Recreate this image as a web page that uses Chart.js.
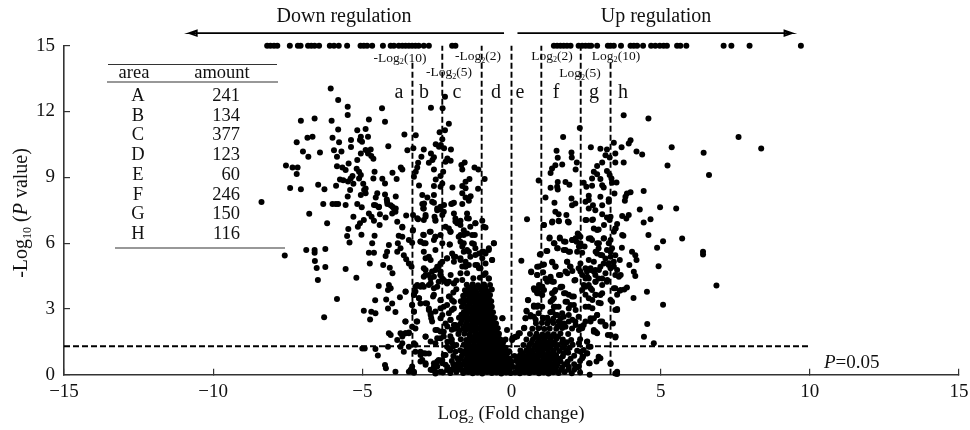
<!DOCTYPE html>
<html>
<head>
<meta charset="utf-8">
<style>
html, body { margin: 0; padding: 0; background: #fff; }
canvas { display: block; }
</style>
<script src="https://cdn.jsdelivr.net/npm/chart.js@4"></script>
</head>
<body>
<canvas id="volcano" width="970" height="430"></canvas>
<script>
// table in the upper left
const areas = ['A', 'B', 'C', 'D', 'E', 'F', 'G', 'H'];
const amounts = [241, 134, 377, 123, 60, 246, 150, 116];

const xTicks = [-15, -10, -5, 0, 5, 10, 15];
const yTicks = [0, 3, 6, 9, 12, 15];

// fold change cut offs, log2(2), log2(5), log2(10)
const cutLow = 1;
const cutMid = 2.32;
const cutHigh = 3.32;
const pLine = 1.3;

// points capped at -log10(P) = 15
const cappedLeft = [-8.19, -8.08, -7.96, -7.85, -7.43, -7.16, -7.07, -6.82, -6.71, -6.6, -6.45, -6.09, -5.95, -5.79, -5.51, -5.06, -4.95, -4.84, -4.67, -4.31, -4.05, -3.94, -3.78, -3.66, -3.55, -3.44, -3.33, -3.22, -3.11, -2.94, -2.77, -1.99, -1.88];
const cappedRight = [1.42, 1.53, 1.64, 1.75, 1.86, 1.98, 2.25, 2.37, 2.48, 2.59, 2.67, 2.87, 3.23, 3.32, 3.43, 3.67, 3.99, 4.1, 4.21, 4.41, 4.68, 4.82, 4.97, 5.1, 5.21, 5.55, 5.66, 5.86, 7.11, 7.37, 7.98, 9.7];

const farLeftHigh = [[-6.06,13.05],[-5.81,12.52],[-5.49,12.22],[-5.49,11.84],[-4.34,12.15],[-7.06,11.58],[-6.6,11.68],[-6.03,11.58],[-4.78,11.64],[-4.24,11.53],[-5.81,11.18],[-5.17,11.14],[-4.89,11.2],[-6.84,10.8],[-6.67,10.85],[-7.2,10.6],[-6,10.8],[-5.78,10.6],[-5.38,10.7],[-5.05,10.85],[-5.08,10.7],[-4.81,10.85],[-5.01,10.62],[-5.38,10.38],[-4.13,10.42],[-6.99,10.18],[-6.81,9.94],[-6.42,10.13],[-5.95,10.23],[-5.7,10.18],[-5.85,9.94],[-5.05,10.09],[-4.89,10.24],[-4.72,10.27],[-4.81,10.09],[-4.7,9.97],[-4.63,9.85],[-5.17,9.79],[-5.46,9.63],[-7.56,9.54],[-7.34,9.45],[-7.17,9.45],[-7.2,9.15],[-5.85,9.5],[-5.67,9.45],[-5.56,9.33],[-5.19,9.39],[-5.11,9.25],[-5.05,9.1],[-4.59,9.25],[-5.33,9.06],[-5.39,8.95],[-5.75,8.9],[-5.64,8.86],[-5.48,8.81],[-5.11,8.95],[-4.63,8.95],[-4.33,8.93],[-4.24,8.72],[-5.3,8.71],[-4.97,8.71],[-4.89,8.49],[-7.42,8.51],[-7.06,8.46],[-6.48,8.66],[-6.27,8.46],[-5.88,8.62],[-5.41,8.42],[-4.94,8.42],[-5.05,8.19],[-4.89,8.27],[-5.49,8.13],[-4.5,8.27],[-4.55,8.08],[-4.24,8.22],[-4.18,7.99],[-8.38,7.87],[-6.31,7.78],[-6,7.78],[-5.89,7.78],[-5.81,7.78],[-5.56,7.74],[-5.17,7.78],[-5.02,7.63],[-4.61,7.74],[-4.44,7.66],[-4.16,7.78]];

const nearLeftHigh = [[-2.23,12.67],[-2.7,12.17],[-2.31,12.15],[-2.1,11.44],[-2.23,11.15],[-2.41,11.05],[-3.59,10.95],[-3.21,10.92],[-2.32,10.73],[-2.54,10.51],[-2.37,10.47],[-2.26,10.32],[-2.43,10.39],[-2.03,10.27],[-3.49,10.23],[-3.29,10.32],[-2.94,10.27],[-2.7,10.09],[-3.02,9.94],[-2.6,9.91],[-2.65,9.79],[-2.77,9.66],[-2.15,9.86],[-2.04,9.75],[-2.21,9.71],[-3.13,9.66],[-3.16,9.45],[-3.21,9.25],[-3.27,9.03],[-3.71,9.45],[-3.66,9.36],[-3.99,9.21],[-3.85,8.92],[-2.6,9.36],[-2.29,9.25],[-2.38,9.06],[-2.54,8.9],[-1.57,9.68],[-1.68,9.56],[-1.65,9.36],[-1.24,9.45],[-1.11,9.36],[-0.9,8.92],[-1.41,8.92],[-1.54,8.8],[-1.65,8.6],[-1.54,8.5],[-1.12,8.48],[-1.98,8.53],[-2.32,8.72],[-2.38,8.57],[-2.6,8.6],[-3.1,8.63],[-2.99,8.19],[-2.82,8.08],[-2.6,8.19],[-2.6,7.84],[-2.93,7.81],[-2.96,7.58],[-3.88,8.12],[-3.99,7.66],[-3.88,7.58],[-1.65,8.27],[-1.54,8.08],[-1.37,8.14],[-1.43,7.93],[-1.98,7.81],[-1.93,7.84],[-1.65,7.78],[-2.38,7.66],[-2.26,7.74],[-2.49,7.58]];

const leftMiddle = [[-6.78,7.34],[-6.18,6.9],[-5.3,7.2],[-4.95,7.05],[-5.08,6.9],[-5.15,6.75],[-5.47,6.64],[-5.51,6.32],[-5.43,6.03],[-5.03,6.38],[-4.59,6.34],[-4.78,7.35],[-4.69,7.2],[-4.61,7.02],[-4.41,7.31],[-4.42,6.82],[-4.56,7.73],[-4.45,7.63],[-4.22,7.17],[-4.17,7.88],[-4.05,7.73],[-3.94,7.58],[-3.89,7.43],[-4,7.35],[-3.83,6.97],[-3.66,6.71],[-3.78,6.34],[-3.81,5.99],[-3.53,7.26],[-3.3,7.28],[-3.13,7.09],[-2.99,7.78],[-2.94,7.58],[-2.88,7.28],[-2.94,7.05],[-2.66,7.88],[-2.58,7.2],[-2.55,7.02],[-2.49,7.5],[-2.38,7.53],[-2.27,7.43],[-2.32,7.28],[-2.02,7.78],[-1.93,7.35],[-1.88,7.12],[-1.71,7.02],[-1.82,6.9],[-1.49,7.35],[-1.43,7.12],[-2.1,6.67],[-2.05,6.52],[-1.21,6.9],[-1.38,6.75],[-1.6,6.59],[-1.71,6.37],[-1.49,6.44],[-0.98,7.02],[-0.87,6.71],[-1.23,6.37],[-1.26,5.96],[-3.31,6.56],[-3.44,6.14],[-3.33,6.02],[-2.96,6.38],[-3.05,6.06],[-2.94,5.99],[-2.74,6.52],[-2.55,6.29],[-2.38,6.37],[-2.07,5.94],[-2.32,5.99],[-1.71,6.06],[-1.6,5.99],[-0.59,5.99]];

const leftLower = [[-4.11,5.91],[-4.17,5.61],[-3.72,5.76],[-3.83,5.61],[-3.61,5.45],[-3.53,5.26],[-3.44,5.07],[-3.35,4.92],[-4.67,5.99],[-4.78,5.56],[-4.61,5.56],[-4.22,5.41],[-4.3,5],[-4.75,5.07],[-4.08,4.88],[-3.99,4.62],[-6.88,5.68],[-6.6,5.68],[-6.6,5.56],[-6.24,5.73],[-7.6,5.44],[-6.59,5.18],[-6.53,4.86],[-6.24,4.91],[-5.56,4.82],[-6.49,4.32],[-5.2,4.42],[-5.85,3.45],[-6.28,2.62],[-4.45,4.04],[-4.11,4.09],[-4.05,3.94],[-4.14,3.86],[-4.57,3.4],[-4.2,3.43],[-4,3.25],[-4.14,3.02],[-3.89,2.86],[-3.74,3.53],[-3.55,3.78],[-4.95,2.92],[-4.7,2.87],[-4.56,2.8],[-4.74,2.52],[-3.56,2.42],[-4.11,1.89],[-4.05,1.81],[-3.72,1.89],[-3.55,1.89],[-3.44,1.92],[-3.83,1.58],[-3.72,1.28],[-3.61,1.05],[-5,1.2],[-4.92,1.2],[-4.56,1.17],[-4.48,0.87],[-4.14,1.28],[-4.24,0.44],[-4.21,0.29],[-3.89,0.14],[-3.44,0.14],[-3.33,0.21],[-3.27,0.09]];

const leftInner = [[-3.22,4.01],[-2.99,4.09],[-3.27,3.63],[-3.1,3.48],[-3.05,3.25],[-3.33,3.18],[-3.27,2.87],[-2.94,4.85],[-2.88,4.54],[-2.66,4.7],[-2.71,4.39],[-2.77,4.09],[-2.6,3.94],[-2.63,3.56],[-2.83,3.25],[-2.77,3.02],[-2.71,2.8],[-2.69,2.57],[-2.49,4.92],[-2.38,4.7],[-2.32,4.39],[-2.16,4.16],[-2.49,4.01],[-2.38,3.4],[-2.27,3.1],[-2.1,3.56],[-1.99,3.4],[-1.93,3.02],[-2.38,2.57],[-2.21,2.34],[-2.05,2.49],[-1.93,2.27],[-3.16,2.42],[-3.22,2.11],[-3.27,1.43],[-2.88,1.73],[-2.49,2.04],[-2.27,1.96],[-2.38,1.66],[-3.05,1.05],[-2.88,0.97],[-2.77,0.97],[-2.99,0.67],[-2.88,0.52],[-2.6,0.52],[-2.49,0.37],[-2.66,0.21],[-2.44,0.67],[-2.32,0.52],[-2.38,0.14],[-2.55,0.06],[-2.16,0.21],[-1.93,0.44],[-2.21,0.9],[-2.38,5.07],[-2.16,5.3],[-1.93,5.38],[-1.71,5.23],[-1.54,4.92],[-1.49,4.62],[-1.65,4.32],[-1.93,4.16],[-2.21,4.24],[-2.38,4.54],[-1.49,5.68],[-1.38,5.38],[-1.09,5.53],[-0.93,5.61],[-0.76,5.68],[-0.65,5.23],[-1.21,5],[-1.09,4.85],[-0.93,4.54],[-0.76,4.39],[-0.87,5.07],[-0.31,2.57],[-0.15,2.04],[0.13,1.73],[0.02,1.58]];

const leftExtra = [[-3.16,7.13],[-2.88,7.2],[-2.55,7.05],[-2.21,6.75],[-2.04,6.52],[-1.88,6.98],[-1.71,6.82],[-1.49,7.13],[-1.21,6.9],[-0.93,6.75],[-1.6,6.37],[-1.77,6.29],[-1.32,6.37],[-3.66,6.75],[-3.66,6.29],[-3.3,6.6],[-2.94,6.37],[-3.05,6.07],[-2.88,5.99],[-2.94,5.61],[-2.71,6.52],[-2.55,6.29],[-2.6,6.14],[-2.55,5.69],[-2.77,5.38],[-2.88,5.31],[-2.71,5.23],[-2.07,5.94],[-1.65,5.84],[-1.6,5.61],[-1.32,5.99],[-1.21,5.76],[-0.98,5.61],[-1.43,5.61],[-1.21,5.46],[-0.59,5.99],[-0.76,5.76],[-0.87,5.53],[-0.98,5.31],[-0.65,5.23],[-1.99,5.53],[-1.88,5.38],[-2.16,5.31],[-2.32,5.15],[-2.44,4.93],[-1.93,5.15],[-1.71,5.31],[-1.54,5.15],[-1.43,5],[-1.65,4.93],[-1.15,5],[-1.04,4.85],[-0.87,4.62],[-0.76,4.39],[-2.55,4.77],[-2.38,4.55],[-2.27,4.32],[-2.44,4.24],[-2.6,4.47],[-2.77,4.55],[-2.71,4.17],[-2.88,4.77],[-2.94,4.47],[-2.04,4.55],[-1.93,4.17],[-2.1,4.24],[-1.71,4.62],[-3.16,4.09],[-3.05,4.01],[-3.22,3.79],[-3.27,3.64],[-3.1,3.48],[-2.94,4.01],[-3.55,3.79],[-2.88,3.26],[-2.77,2.95],[-2.6,3.64],[-2.71,2.72],[-2.66,2.42],[-2.55,2.88],[-3.33,3.18],[-3.27,2.88],[-3.55,2.42],[-3.18,2.42],[-3.33,2.19],[-2.38,3.41],[-2.38,3.03],[-2.32,2.72],[-2.07,3.56],[-1.93,3.33],[-2.16,3.18],[-2.04,2.5],[-1.88,2.27],[-2.88,1.74],[-2.55,2.04],[-2.38,1.97],[-2.49,1.66],[-2.27,1.74],[-2.71,1.51],[-2.55,1.43],[-3.66,1.74],[-3.55,1.89],[-3.44,1.89],[-3.66,1.43],[-3.44,1.28],[-3.22,1.36],[-3.22,1.05],[-3.05,0.9],[-2.94,0.98],[-3.05,0.6],[-2.88,0.45],[-3.38,0.22],[-3.27,0.14],[-3.33,0.37],[-2.71,0.22],[-2.6,0.37],[-2.49,0.6],[-2.32,0.67],[-2.55,0.14],[-2.21,0.45],[-2.04,0.22],[-2.16,1.28],[-1.99,1.43],[-1.88,1.05],[-1.82,0.75],[-2.27,0.9],[-1.85,4.3],[-1.85,3.9],[-1.95,3.75],[-2.1,2.8],[-2,2.95],[-2.15,2.2],[-2,2.05],[-2.05,1.75],[-2.15,1.5],[-1.95,1.3],[-1.9,0.3],[-1.75,0.72],[-2.1,1.2]];

const coreLeft = [[-2.3,0.1],[-2.05,0.08],[-1.85,0.12],[-1.62,0.08],[-1.45,0.12],[-1.3,0.07],[-1.14,0.1],[-0.98,0.06],[-0.82,0.12],[-0.66,0.08],[-0.5,0.1],[-0.34,0.06],[-0.18,0.1],[-0.03,0.08],
[-2.15,0.35],[-1.9,0.38],[-1.72,0.33],[-1.52,0.36],[-1.36,0.32],[-1.2,0.37],[-1.04,0.34],[-0.88,0.36],[-0.72,0.33],[-0.56,0.37],[-0.4,0.34],[-0.24,0.36],[-0.08,0.33],
[-2,0.62],[-1.78,0.58],[-1.58,0.63],[-1.42,0.59],[-1.26,0.62],[-1.1,0.58],[-0.94,0.61],[-0.78,0.63],[-0.62,0.58],[-0.46,0.61],[-0.3,0.59],[-0.14,0.62],[0,0.6],
[-1.95,0.85],[-1.66,0.87],[-1.48,0.83],[-1.32,0.86],[-1.14,0.84],[-0.98,0.88],[-0.82,0.85],[-0.66,0.83],[-0.5,0.87],[-0.34,0.84],[-0.18,0.86],
[-2.05,1.1],[-1.72,1.12],[-1.55,1.08],[-1.38,1.11],[-1.2,1.09],[-1.04,1.13],[-0.88,1.1],[-0.72,1.08],[-0.56,1.12],[-0.4,1.09],[-0.24,1.11],[-0.08,1.07],
[-1.85,1.35],[-1.6,1.37],[-1.44,1.33],[-1.26,1.36],[-1.1,1.34],[-0.94,1.38],[-0.78,1.35],[-0.62,1.33],[-0.46,1.37],[-0.3,1.34],
[-2,1.6],[-1.7,1.62],[-1.52,1.58],[-1.34,1.61],[-1.16,1.59],[-1,1.63],[-0.84,1.6],[-0.68,1.58],[-0.52,1.62],[-0.36,1.59],[-0.2,1.6],
[-1.78,1.85],[-1.58,1.87],[-1.4,1.83],[-1.22,1.86],[-1.06,1.84],[-0.9,1.88],[-0.74,1.85],[-0.58,1.83],[-0.42,1.87],
[-1.9,2.1],[-1.62,2.12],[-1.46,2.08],[-1.28,2.11],[-1.1,2.09],[-0.94,2.13],[-0.78,2.1],[-0.62,2.08],[-0.46,2.12],
[-1.7,2.35],[-1.5,2.37],[-1.32,2.33],[-1.16,2.36],[-1,2.34],[-0.84,2.38],[-0.68,2.35],[-0.52,2.33],
[-1.76,2.6],[-1.56,2.62],[-1.38,2.58],[-1.2,2.61],[-1.04,2.59],[-0.88,2.63],[-0.72,2.6],[-0.56,2.58],
[-1.6,2.85],[-1.42,2.87],[-1.24,2.83],[-1.08,2.86],[-0.92,2.84],[-0.76,2.88],[-0.62,2.85],
[-1.66,3.1],[-1.46,3.12],[-1.28,3.08],[-1.12,3.11],[-0.96,3.09],[-0.8,3.13],[-0.66,3.1],
[-1.7,3.35],[-1.5,3.37],[-1.32,3.33],[-1.16,3.36],[-1,3.34],[-0.84,3.38],[-0.68,3.35],
[-1.62,3.6],[-1.44,3.62],[-1.26,3.58],[-1.08,3.61],[-0.9,3.59],[-0.72,3.63],
[-1.56,3.85],[-1.38,3.87],[-1.2,3.83],[-1.02,3.86],[-0.84,3.84],[-0.66,3.88],
[-1.5,4.1],[-1.3,4.12],[-1.12,4.08],[-0.92,4.11],[-0.72,4.09],[-1.28,4.4],[-1.06,4.42]];

const coreLeftFill = [[-2,0.22],[-1.85,0.25],[-1.7,0.22],[-1.54,0.22],[-1.38,0.22],[-1.22,0.22],[-1.06,0.22],[-0.9,0.22],[-0.74,0.22],[-0.58,0.22],[-0.42,0.22],[-0.26,0.22],[-0.1,0.22],
[-1.95,0.48],[-1.8,0.48],[-1.64,0.48],[-1.47,0.48],[-1.3,0.48],[-1.14,0.48],[-0.98,0.48],[-0.82,0.48],[-0.66,0.48],[-0.5,0.48],[-0.34,0.48],[-0.18,0.48],[-0.02,0.48],
[-1.7,0.73],[-1.5,0.73],[-1.34,0.73],[-1.18,0.73],[-1.02,0.73],[-0.86,0.73],[-0.7,0.73],[-0.54,0.73],[-0.38,0.73],[-0.22,0.73],[-0.06,0.73],
[-1.6,0.98],[-1.42,0.98],[-1.26,0.98],[-1.1,0.98],[-0.94,0.98],[-0.78,0.98],[-0.62,0.98],[-0.46,0.98],[-0.3,0.98],[-0.14,0.98],
[-1.5,1.23],[-1.32,1.23],[-1.16,1.23],[-1,1.23],[-0.84,1.23],[-0.68,1.23],[-0.52,1.23],[-0.36,1.23],[-0.2,1.23],
[-1.44,1.48],[-1.26,1.48],[-1.08,1.48],[-0.92,1.48],[-0.76,1.48],[-0.6,1.48],[-0.44,1.48],[-0.28,1.48],
[-1.4,1.73],[-1.24,1.73],[-1.08,1.73],[-0.92,1.73],[-0.76,1.73],[-0.6,1.73],[-0.44,1.73],
[-1.75,2],[-1.55,2],[-1.35,2],[-1.2,2],[-1.02,2],[-0.86,2],[-0.7,2],[-0.54,2],
[-1.8,2.23],[-1.55,2.23],[-1.38,2.23],[-1.2,2.23],[-1.02,2.23],[-0.86,2.23],[-0.7,2.23],[-0.54,2.23],
[-1.66,2.48],[-1.47,2.48],[-1.3,2.48],[-1.12,2.48],[-0.96,2.48],[-0.8,2.48],[-0.64,2.48],
[-1.68,2.73],[-1.5,2.73],[-1.32,2.73],[-1.16,2.73],[-1,2.73],[-0.84,2.73],[-0.68,2.73],
[-1.52,2.98],[-1.34,2.98],[-1.18,2.98],[-1.02,2.98],[-0.86,2.98],[-0.72,2.98],
[-1.6,3.23],[-1.4,3.23],[-1.22,3.23],[-1.06,3.23],[-0.9,3.23],[-0.74,3.23],
[-1.6,3.48],[-1.42,3.48],[-1.24,3.48],[-1.08,3.48],[-0.92,3.48],[-0.76,3.48],
[-1.52,3.73],[-1.34,3.73],[-1.16,3.73],[-0.98,3.73],[-0.8,3.73],
[-1.44,3.98],[-1.26,3.98],[-1.06,3.98],[-0.88,3.98]];

const coreRight = [[0.12,0.1],[0.28,0.07],[0.44,0.11],[0.6,0.08],[0.76,0.12],[0.92,0.07],[1.08,0.1],[1.24,0.06],[1.4,0.11],[1.58,0.08],[1.78,0.12],[2.02,0.07],[2.3,0.1],
[0.06,0.35],[0.22,0.38],[0.38,0.33],[0.54,0.36],[0.7,0.32],[0.86,0.37],[1.02,0.34],[1.18,0.36],[1.34,0.33],[1.5,0.37],[1.7,0.34],[1.92,0.36],[2.2,0.33],
[0.16,0.62],[0.32,0.58],[0.48,0.63],[0.64,0.59],[0.8,0.62],[0.96,0.58],[1.12,0.61],[1.28,0.63],[1.46,0.58],[1.64,0.61],[1.88,0.59],[2.3,0.62],
[0.1,0.85],[0.28,0.87],[0.46,0.83],[0.62,0.86],[0.8,0.84],[0.98,0.88],[1.14,0.85],[1.32,0.83],[1.5,0.87],[1.72,0.84],[2.1,0.86],[2.4,0.83],
[0.3,1.1],[0.5,1.12],[0.68,1.08],[0.86,1.11],[1.04,1.09],[1.22,1.13],[1.4,1.1],[1.6,1.08],[1.85,1.12],[2.2,1.09],
[0.4,1.35],[0.6,1.37],[0.8,1.33],[0.98,1.36],[1.16,1.34],[1.36,1.38],[1.56,1.35],[1.78,1.33],[2.05,1.37],
[0.5,1.6],[0.72,1.62],[0.92,1.58],[1.1,1.61],[1.3,1.59],[1.5,1.63],[1.72,1.6],[2,1.58],[2.3,1.62],
[0.62,1.85],[0.84,1.87],[1.04,1.83],[1.22,1.86],[1.42,1.84],[1.64,1.88],[1.9,1.85],
[0.7,2.1],[0.9,2.12],[1.1,2.08],[1.28,2.11],[1.5,2.09],[1.7,2.13],
[0.82,2.35],[1.02,2.37],[1.2,2.33],[1.4,2.36],[1.62,2.34]];

const coreRightFill = [[0.2,0.22],[0.36,0.22],[0.52,0.22],[0.68,0.22],[0.84,0.22],[1,0.22],[1.16,0.22],[1.32,0.22],[1.48,0.22],[1.66,0.22],[1.9,0.22],[2.1,0.22],
[0.24,0.48],[0.4,0.48],[0.56,0.48],[0.72,0.48],[0.88,0.48],[1.04,0.48],[1.2,0.48],[1.36,0.48],[1.54,0.48],[1.78,0.48],[2.1,0.48],
[0.22,0.73],[0.38,0.73],[0.54,0.73],[0.7,0.73],[0.88,0.73],[1.06,0.73],[1.22,0.73],[1.4,0.73],[1.58,0.73],[1.98,0.73],
[0.38,0.98],[0.56,0.98],[0.72,0.98],[0.9,0.98],[1.06,0.98],[1.24,0.98],[1.42,0.98],[1.75,0.98],[1.9,1],
[0.58,1.23],[0.76,1.23],[0.94,1.23],[1.12,1.23],[1.3,1.23],[1.5,1.23],[1.72,1.23],[1.95,1.23],
[0.68,1.48],[0.88,1.48],[1.06,1.48],[1.24,1.48],[1.44,1.48],[1.7,1.48],[1.86,1.48],
[0.8,1.73],[0.98,1.73],[1.16,1.73],[1.34,1.73],[1.56,1.73],
[1.2,2.6],[1.3,2.85],[1.25,2.45],[1.05,2.6],[1.4,2.55],[1.55,2.2]];

const rightHigh = [[3.76,11.83],[4.59,11.68],[2.29,11.25],[1.73,10.84],[7.61,10.84],[8.37,10.31],[2.66,10.37],[2.98,10.3],[3.2,10.27],[3.43,10.57],[3.69,10.37],[3.99,10.69],[3.93,10.54],[4.19,10.18],[4.38,10.04],[5.37,10.37],[6.44,10.12],[5.23,9.54],[6.62,9.1],[1.51,10.21],[1.55,9.89],[1.7,9.58],[1.47,9.55],[1.36,9.4],[1.31,9.2],[2.01,10.13],[2.02,9.9],[2.19,9.67],[2.15,9.36],[3.48,10.08],[3.15,10],[3.29,9.9],[3.48,9.67],[3.76,9.67],[3.04,9.67],[2.87,9.51],[2.76,9.25],[2.87,9.14],[2.7,8.95],[2.98,8.92],[3.2,9.29],[3.29,9.1],[3.35,8.95],[0.91,8.85],[1.55,8.79],[1.81,8.79],[1.94,8.66],[1.31,8.52],[1.53,8.57],[1.55,8.44],[2.42,8.75],[2.51,8.57],[2.7,8.61],[3.04,8.64],[3.09,8.54],[3.37,8.75],[3.52,8.76],[3.45,8.26],[3.82,8.11],[3.87,8.26],[3.99,8.32],[4.43,8.37],[1.14,8.08],[2.01,8.03],[2.59,8.16],[2.59,7.96],[2.98,8.11],[3.26,8]];

const rightMiddle = [[1.44,7.84],[2.03,7.73],[2.14,7.81],[2.48,7.88],[2.73,7.73],[3.04,7.73],[3.26,7.88],[3.8,7.93],[4.3,7.53],[4.98,7.63],[5.52,7.58],[1.47,7.43],[1.58,7.32],[1.84,7.28],[0.52,7.09],[1.36,6.94],[1.58,7.02],[1.92,6.94],[2.59,7.58],[2.81,7.5],[2.51,7.05],[2.73,7.08],[2.76,6.67],[2.92,6.62],[3.04,7.32],[3.2,7.17],[3.29,7.05],[3.71,7.23],[3.93,7.28],[3.85,7.12],[3.54,6.87],[3.48,6.67],[3.43,6.52],[4.43,6.94],[4.66,7.09],[1.08,6.82],[4.59,6.37],[3.75,6.34],[5.08,6.08],[5.72,6.21],[4.88,5.79],[6.42,5.61],[6.42,5.48],[3.7,5.79],[4.04,5.61],[4.15,5.45],[4.19,5.23],[4.93,4.95],[3.95,5],[4.1,4.69],[4.15,4.5],[6.87,4.07],[4.54,3.78],[4.09,3.5],[5.08,3.19],[4.55,2.31],[4.44,1.73],[4.77,1.43]];

const rightLower = [[3.87,3.98],[3.78,3.89],[3.48,3.94],[3.63,3.83],[3.6,4.47],[3.48,4.54],[3.54,2.99],[3.48,2.95],[3.37,3.33],[3.4,2.34],[3.48,1.7],[3.23,1.81],[3.32,0.49],[3.48,0.06],[3.54,0.03],[2.92,0.82],[2.98,0.75],[2.62,0.52],[2.62,0],[0.33,5.2],[0.66,4.7],[0.86,4.92],[1.03,5],[0.86,4.54],[0.95,5.48],[1.17,5.64],[1.27,6.21],[1.44,5.99],[1.62,6.21],[1.81,6.06],[1.55,5.76],[1.75,5.68],[1.92,5.61],[2.03,6.14],[2.22,6.44],[2.31,6.29],[2.18,6.06],[2.29,5.83],[2.37,5.56],[2.2,5.6],[2.59,6.21],[2.7,6.14],[2.87,5.99],[3.09,6.21],[3.26,5.99],[2.92,5.76],[3.2,5.68],[3.37,5.76],[3.48,5.45],[3.32,5.38],[3.04,5.45],[2.87,5.53],[1.36,5.15],[1.47,4.92],[1.86,5.15],[1.98,4.92],[1.81,4.7],[1.64,4.54],[2.31,5.07],[2.25,4.85],[2.31,4.7],[2.14,4.32],[2.59,5.23],[2.76,5.15],[2.65,4.85],[2.53,4.7],[2.81,4.77],[2.98,4.92],[3.26,5],[3.43,5.15],[3.63,5.23],[3.32,4.85],[3.09,5.07],[2.48,4.39],[2.59,4.39],[2.81,4.54],[2.92,4.39],[2.81,4.24],[3.15,4.62],[3.2,4.24],[2.42,4.09],[2.59,4.09],[2.37,3.86],[3.04,4.09],[1.31,4.39],[1.2,4.24],[1.42,4.24],[1.14,4.39],[1.64,3.98],[1.47,3.86],[1.7,4.01],[0.75,3.94],[0.91,3.94],[1.03,4.01],[0.86,3.71],[1.03,3.63],[0.56,3.4],[0.75,3.1],[0.86,3.1],[1.03,3.1],[0.5,2.92],[0.75,2.64],[0.47,2.57],[0.91,2.8],[0.64,2.72],[-0.3,2.57],[0.43,2.14],[0.24,1.89],[0.1,1.7],[1.36,3.71],[1.42,3.48],[1.31,3.33],[1.42,3.1],[1.36,2.87],[1.81,3.71],[2.03,3.56],[1.86,3.33],[2.09,3.18],[1.92,3.02],[1.58,3.1],[1.7,2.8],[1.53,2.72],[2.59,3.48],[2.81,3.63],[2.98,3.63],[2.7,3.86],[2.92,3.28],[2.59,3.1],[2.87,2.72],[2.76,2.57],[2.98,2.42],[3.15,2.22],[2.65,2.42],[2.42,2.27],[2.76,1.96],[2.87,1.89],[2.53,1.5],[2.59,1.28],[2.42,1.13],[2.53,0.97],[2.25,2.64],[2.14,2.42],[2.31,2.19],[1.92,2.42],[1.75,2.64],[1.58,2.42],[2.03,2.11],[1.81,2.19]];

const rightExtra = [[1.09,6.82],[1.37,6.98],[1.59,7],[1.89,6.98],[1.28,6.25],[1.62,6.25],[1.42,5.99],[1.76,6.07],[1.53,5.76],[1.81,5.69],[1.96,5.61],[1.2,5.64],[2.04,6.14],[2.26,6.37],[2.15,6.22],[2.31,5.99],[2.26,5.84],[2.45,5.84],[0.98,5.5],[1.09,5.03],[0.92,4.93],[0.66,4.67],[0.86,4.55],[1.06,4.67],[1.37,5.12],[1.48,4.93],[1.87,5.15],[1.96,4.93],[2.04,4.73],[1.87,4.62],[1.59,4.55],[1.31,4.47],[1.2,4.32],[1.37,4.24],[1.03,4.01],[0.92,4.09],[0.77,3.86],[0.92,3.71],[1.09,3.86],[1.65,4.01],[2.11,4.29],[1.44,3.79],[1.37,3.41],[1.48,3.1],[1.76,3.71],[1.92,3.64],[2.09,3.56],[0.55,3.41],[0.75,3.15],[0.89,3.15],[0.51,2.88],[0.64,2.65],[0.81,2.5],[0.47,2.57],[1.09,2.57],[1.81,3.33],[1.98,3.18],[2.15,2.95],[1.37,2.88],[1.48,2.72],[1.65,2.57],[1.76,2.34],[1.92,2.72],[2.04,2.5],[2.15,2.27],[2.26,2.04],[2.37,2.12],[2.65,6.22],[2.93,5.99],[3.1,6.22],[3.32,6.14],[2.87,6.6],[2.7,7.05],[2.48,7.05],[3.1,6.82],[3.32,7.2],[3.49,6.67],[3.71,6.37],[2.82,5.61],[2.99,5.46],[3.15,5.3],[3.32,5.61],[3.26,5.08],[3.43,4.93],[3.66,4.55],[3.54,4.77],[2.48,4.85],[2.65,4.77],[2.37,4.55],[2.54,4.47],[2.76,4.7],[2.93,4.77],[3.04,4.39],[2.82,4.24],[3.21,4.32],[2.48,4.01],[2.65,3.94],[2.48,3.64],[2.82,3.64],[3.04,3.71],[3.32,3.41],[3.54,3.64],[3.43,3.94],[3.66,3.86],[2.71,3.41],[2.99,3.26],[2.48,3.1],[2.71,3.03],[3.54,2.95],[2.87,2.72],[2.65,2.57],[2.48,2.42],[3.04,2.42],[3.15,2.27],[2.82,1.96],[2.76,2.04],[3.32,1.81],[3.49,1.74],[0.19,1.74],[0.42,2.12],[0.03,1.66],[0.28,1.89],[2.54,1.51],[2.65,1.28],[2.26,1.43],[2.32,1.05],[2.54,0.98],[2.37,0.75],[2.26,0.37],[2.6,0.52],[2.93,0.75],[2.85,0.6],[3.32,0.52],[3.54,0.14]];

const INK = '#000';
const AXIS = '#333';
const SERIF = '"Liberation Serif", "Times New Roman", serif';

function toXY(pairs) {
    return pairs.map((p) => ({ x: p[0], y: p[1] }));
}

function dashed(x1, y1, x2, y2) {
    return {
        data: [{ x: x1, y: y1 }, { x: x2, y: y2 }],
        showLine: true,
        pointRadius: 0,
        borderColor: INK,
        borderWidth: 1.9,
        borderDash: [6, 3],
        clip: false,
    };
}

// points outside the chart area are not drawn, so the head is part of the line path
function arrow(x1, x2) {
    const back = x2 - Math.sign(x2 - x1) * 0.25;
    const y = 15.57;
    return {
        data: [
            { x: x1, y: y }, { x: x2, y: y },
            { x: back, y: y + 0.12 }, { x: back, y: y - 0.12 }, { x: x2, y: y },
        ],
        showLine: true,
        pointRadius: 0,
        borderColor: INK,
        borderWidth: 1.8,
        clip: false,
    };
}

// text with sub and italic runs, drawn left to right from x
function runsWidth(ctx, runs, size) {
    let w = 0;
    runs.forEach((r) => {
        ctx.font = (r.i ? 'italic ' : '') + (r.sub ? size * 0.6 : size) + 'px ' + SERIF;
        w += ctx.measureText(r.t).width;
    });
    return w;
}

function drawRuns(ctx, runs, x, y, size) {
    ctx.textAlign = 'left';
    ctx.textBaseline = 'alphabetic';
    ctx.fillStyle = '#111';
    runs.forEach((r) => {
        ctx.font = (r.i ? 'italic ' : '') + (r.sub ? size * 0.6 : size) + 'px ' + SERIF;
        ctx.fillText(r.t, x, r.sub ? y + size * 0.2 : y);
        x += ctx.measureText(r.t).width;
    });
}

function drawCentered(ctx, runs, cx, y, size) {
    drawRuns(ctx, runs, cx - runsWidth(ctx, runs, size) / 2, y, size);
}

const logLabel = (pre, val) => [{ t: pre + 'Log' }, { t: '2', sub: true }, { t: '(' + val + ')' }];

const labelsPlugin = {
    id: 'labels',
    afterDraw(chart) {
        const ctx = chart.ctx;
        ctx.save();

        drawCentered(ctx, [{ t: 'Down regulation' }], 344, 21.5, 20);
        drawCentered(ctx, [{ t: 'Up regulation' }], 656, 21.5, 20);

        // cut off labels
        drawCentered(ctx, logLabel('-', 10), 400, 61.5, 13.5);
        drawCentered(ctx, logLabel('-', 5), 449, 76, 13.5);
        drawCentered(ctx, logLabel('-', 2), 478, 60, 13.5);
        drawCentered(ctx, logLabel('', 2), 552, 59.5, 13.5);
        drawCentered(ctx, logLabel('', 5), 580, 77, 13.5);
        drawCentered(ctx, logLabel('', 10), 616, 59.5, 13.5);

        // region letters
        const letters = ['a', 'b', 'c', 'd', 'e', 'f', 'g', 'h'];
        const letterX = [399, 424, 457, 496, 520, 556, 594, 623];
        letters.forEach((l, i) => drawCentered(ctx, [{ t: l }], letterX[i], 98, 20));

        // table
        ctx.strokeStyle = '#333';
        ctx.lineWidth = 1.2;
        [[108, 277, 64.5], [107, 278, 82], [115, 285, 248]].forEach((r) => {
            ctx.beginPath();
            ctx.moveTo(r[0], r[2]);
            ctx.lineTo(r[1], r[2]);
            ctx.stroke();
        });
        drawCentered(ctx, [{ t: 'area' }], 134, 78, 18.5);
        drawCentered(ctx, [{ t: 'amount' }], 222, 78, 18.5);
        areas.forEach((a, i) => {
            const y = 101 + i * 19.7;
            drawCentered(ctx, [{ t: a }], 138, y, 18.5);
            ctx.textAlign = 'right';
            ctx.font = '18.5px ' + SERIF;
            ctx.fillText(String(amounts[i]), 240, y);
        });

        drawRuns(ctx, [{ t: 'P', i: true }, { t: '=0.05' }], 824, 368, 19);

        // axis titles
        drawCentered(ctx, [{ t: 'Log' }, { t: '2', sub: true }, { t: ' (Fold change)' }], 511, 419, 19);
        ctx.translate(27, 213);
        ctx.rotate(-Math.PI / 2);
        drawCentered(ctx, [{ t: '-Log' }, { t: '10', sub: true }, { t: ' (' }, { t: 'P', i: true }, { t: ' value)' }], 0, 0, 20);
        ctx.restore();
    },
};

const allPoints = [
    ...cappedLeft.map((x) => [x, 15]),
    ...cappedRight.map((x) => [x, 15]),
    ...farLeftHigh,
    ...nearLeftHigh,
    ...leftMiddle,
    ...leftLower,
    ...leftInner,
    ...leftExtra,
    ...coreLeft,
    ...coreLeftFill,
    ...coreRight,
    ...coreRightFill,
    ...rightHigh,
    ...rightMiddle,
    ...rightLower,
    ...rightExtra,
];

new Chart(document.getElementById('volcano'), {
    type: 'scatter',
    data: {
        datasets: [
            {
                data: toXY(allPoints),
                pointRadius: 3,
                pointBorderWidth: 0,
                pointBackgroundColor: INK,
                clip: false,
            },
            dashed(-15, pLine, 9.95, pLine),
            dashed(0, 0, 0, 15),
            dashed(cutLow, 0, cutLow, 15),
            dashed(-cutLow, 0, -cutLow, 15),
            dashed(cutMid, 0, cutMid, 15),
            dashed(-cutMid, 0, -cutMid, 15),
            dashed(cutHigh, 0, cutHigh, 14.26),
            dashed(-cutHigh, 0, -cutHigh, 14.26),
            arrow(-0.25, -10.8),
            arrow(0.2, 9.4),
        ],
    },
    options: {
        responsive: false,
        animation: false,
        layout: { padding: { left: 0, right: 11, top: 45.7, bottom: 0 } },
        plugins: { legend: { display: false }, tooltip: { enabled: false } },
        scales: {
            x: {
                type: 'linear',
                min: xTicks[0],
                max: xTicks[xTicks.length - 1],
                afterFit(scale) {
                    scale.height = 55.3;
                    scale.paddingLeft = 0;
                    scale.paddingRight = 0;
                },
                afterBuildTicks(scale) { scale.ticks = xTicks.map((v) => ({ value: v })); },
                border: { color: AXIS, width: 1.6 },
                grid: { drawOnChartArea: false, color: AXIS, lineWidth: 1.2, tickLength: -6 },
                ticks: {
                    color: '#111',
                    padding: 12,
                    maxRotation: 0,
                    autoSkip: false,
                    font: { family: SERIF, size: 19 },
                    callback: (v) => (v < 0 ? '\u2212' + Math.abs(v) : String(v)),
                },
            },
            y: {
                type: 'linear',
                min: yTicks[0],
                max: yTicks[yTicks.length - 1],
                afterFit(scale) { scale.width = 64; },
                afterBuildTicks(scale) { scale.ticks = yTicks.map((v) => ({ value: v })); },
                border: { color: AXIS, width: 1.6 },
                grid: { drawOnChartArea: false, color: AXIS, lineWidth: 1.2, tickLength: -6 },
                ticks: {
                    color: '#111',
                    padding: 15,
                    autoSkip: false,
                    font: { family: SERIF, size: 19 },
                },
            },
        },
    },
    plugins: [labelsPlugin],
});
</script>
</body>
</html>
